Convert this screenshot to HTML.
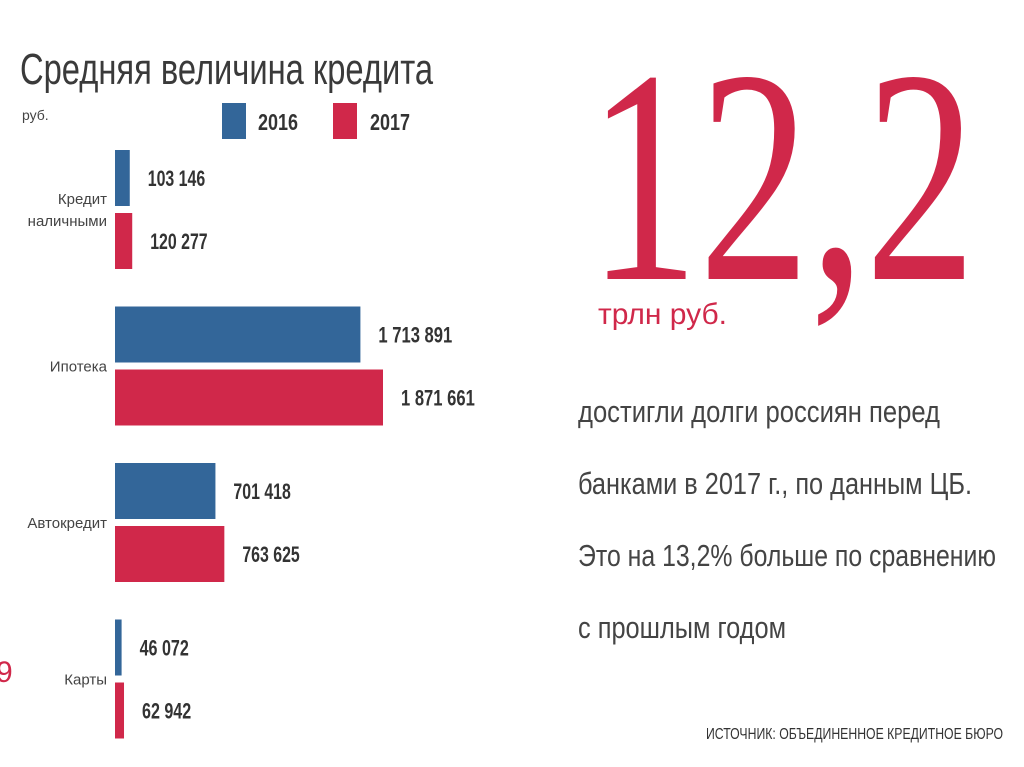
<!DOCTYPE html>
<html><head><meta charset="utf-8"><style>
body{margin:0;background:#fff;width:1024px;height:767px;overflow:hidden;font-family:"Liberation Sans",sans-serif}
svg{position:absolute;left:0;top:0}
</style></head><body>
<svg width="1024" height="767">
<text x="20" y="84" font-size="44" fill="#3a3a3a" textLength="413" lengthAdjust="spacingAndGlyphs">Средняя величина кредита</text>
<text x="22" y="120" font-size="14" fill="#444">руб.</text>
<rect x="222" y="103" width="24" height="36" fill="#336699"/>
<text x="258" y="130" font-size="23" font-weight="bold" fill="#333" textLength="40" lengthAdjust="spacingAndGlyphs">2016</text>
<rect x="333" y="103" width="24" height="36" fill="#d0284a"/>
<text x="370" y="130" font-size="23" font-weight="bold" fill="#333" textLength="40" lengthAdjust="spacingAndGlyphs">2017</text>
<g id="bars"></g>
<text x="-4" y="682" font-size="30" fill="#d0284a">9</text>
<text x="588" y="279" font-size="305" fill="#d0284a" font-family="Liberation Serif" textLength="388" lengthAdjust="spacingAndGlyphs">12,2</text>
<text x="598" y="324" font-size="30" fill="#d0284a">трлн руб.</text>
<g font-size="31" fill="#444">
<text x="578" y="422" textLength="362" lengthAdjust="spacingAndGlyphs">достигли долги россиян перед</text>
<text x="578" y="494" textLength="394" lengthAdjust="spacingAndGlyphs">банками в 2017 г., по данным ЦБ.</text>
<text x="578" y="566" textLength="418" lengthAdjust="spacingAndGlyphs">Это на 13,2% больше по сравнению</text>
<text x="578" y="638" textLength="208" lengthAdjust="spacingAndGlyphs">с прошлым годом</text>
</g>
<text x="706" y="739" font-size="16" fill="#333" textLength="297" lengthAdjust="spacingAndGlyphs">ИСТОЧНИК: ОБЪЕДИНЕННОЕ КРЕДИТНОЕ БЮРО</text>
</svg>
<script>
const categories=[["Кредит","наличными"],["Ипотека"],["Автокредит"],["Карты"]];
const values2016=[103146,1713891,701418,46072];
const values2017=[120277,1871661,763625,62942];
const labels2016=["103 146","1 713 891","701 418","46 072"];
const labels2017=["120 277","1 871 661","763 625","62 942"];
const NS="http://www.w3.org/2000/svg";
const g=document.getElementById('bars');
const x0=115,scale=268/1871661;
const xw=v=>v*scale;
const yTop=i=>150+i*156.5;
function mk(t,a){const e=document.createElementNS(NS,t);for(const k in a)e.setAttribute(k,a[k]);g.appendChild(e);return e;}
categories.forEach((c,i)=>{
  const y=yTop(i);
  [[values2016,labels2016,"#336699",0,"2016"],[values2017,labels2017,"#d0284a",63,"2017"]].forEach(([vals,labs,col,off,yr])=>{
    const w=xw(vals[i]);
    const r=mk('rect',{x:x0,y:y+off,width:w,height:56,fill:col});
    
    
    const t=mk('text',{x:x0+w+18,y:y+off+36,'font-size':22,'font-weight':'bold',fill:'#333'});
    t.textContent=labs[i];
    t.setAttribute('textLength',labs[i].length*8.2);
    t.setAttribute('lengthAdjust','spacingAndGlyphs');
    
    
  });
  const cy=y+59;
  c.forEach((line,j)=>{
    const t=mk('text',{x:107,y:cy+6+(j-(c.length-1)/2)*22,'font-size':15,fill:'#444','text-anchor':'end'});
    t.textContent=line;
    
    
  });
});
</script>
</body></html>
